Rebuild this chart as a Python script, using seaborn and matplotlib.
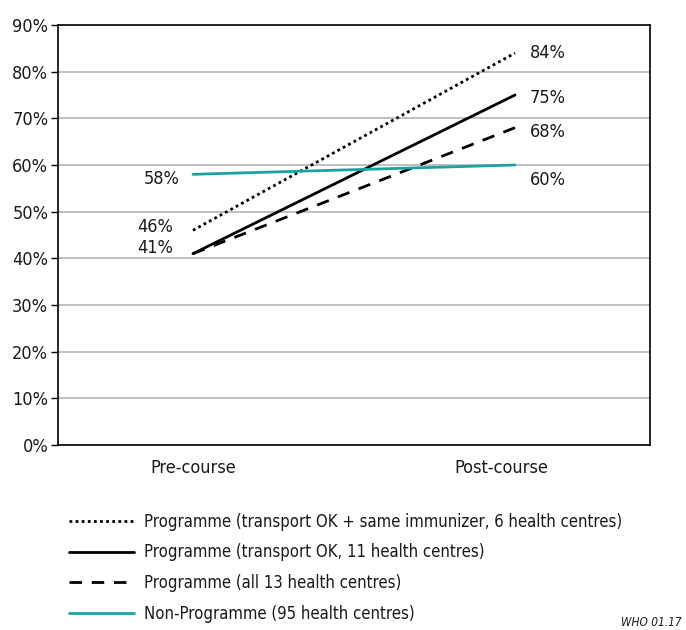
import matplotlib
matplotlib.use("Agg")
from matplotlib import pyplot as plt
import matplotlib.transforms as mtransforms
import numpy as np
import pandas as pd
import seaborn as sns

# data
periods = ["Pre-course", "Post-course"]
series_names = [
    "Programme (transport OK + same immunizer, 6 health centres)",
    "Programme (transport OK, 11 health centres)",
    "Programme (all 13 health centres)",
    "Non-Programme (95 health centres)",
]
pre_values = [46, 41, 41, 58]
post_values = [84, 75, 68, 60]
yticks = [0, 10, 20, 30, 40, 50, 60, 70, 80, 90]

sns.set_theme(style="white")
plt.rcParams["font.family"] = ["DejaVu Sans"]
plt.rcParams["font.stretch"] = "condensed"
plt.rcParams["text.color"] = "#1a1a1a"
plt.rcParams["xtick.color"] = "#1a1a1a"
plt.rcParams["ytick.color"] = "#1a1a1a"
plt.rcParams["xtick.labelcolor"] = "#1a1a1a"
plt.rcParams["ytick.labelcolor"] = "#1a1a1a"

rows = []
for name, pre, post in zip(series_names, pre_values, post_values):
    rows.append({"series": name, "pos": 0, "value": pre})
    rows.append({"series": name, "pos": 1, "value": post})
df = pd.DataFrame(rows)

palette = dict(zip(series_names, ["black", "black", "black", "#1aa3a1"]))
dashes = dict(zip(series_names, [(1, 1.2), "", (4.5, 3.5), ""]))

fig = plt.figure(figsize=(6.86, 6.30), dpi=100)
ax = fig.add_axes([58 / 686, 1 - 445 / 630, 592 / 686, 420 / 630])

sns.lineplot(
    data=df, x="pos", y="value", hue="series", style="series",
    palette=palette, dashes=dashes, linewidth=2, ax=ax,
    hue_order=series_names, style_order=series_names,
)

fs = 13
ax.set_xlim(-0.419, 1.419)
ax.set_ylim(0, 90)
ax.set_yticks(yticks)
ax.set_yticklabels([f"{t}%" for t in yticks], fontsize=fs)
ax.set_xticks([0, 1])
ax.set_xticklabels(periods, fontsize=fs)
ax.tick_params(axis="x", length=0, pad=10)
ax.set_xticks([0.5], minor=True)
ax.tick_params(axis="x", which="minor", direction="in", length=6, width=1, color="black")
ax.tick_params(axis="y", length=5, width=1, color="black", direction="out", left=True, pad=2)
ax.set_xlabel("")
ax.set_ylabel("")
ax.grid(True, axis="y", color="#b5b5b5", linewidth=1.2)
ax.set_axisbelow(True)
for sp in ax.spines.values():
    sp.set_color("black")
    sp.set_linewidth(1.2)
    sp.set_visible(True)

# the post-course label sits a little left of its data column in the original
post_lbl = ax.get_xticklabels()[1]
post_lbl.set_transform(post_lbl.get_transform() +
                       mtransforms.ScaledTranslation(-14 / 100, 0, fig.dpi_scale_trans))

# value labels
left_offsets = [(-20, 3), (-20, 6), (-20, 6), (-13, -5)]
right_offsets = [(15, 0), (15, -3), (15, -4), (15, -15)]
for i, (pre, post) in enumerate(zip(pre_values, post_values)):
    if i == 2:
        continue  # shares the 41% label with the solid line
    ax.annotate(f"{pre}%", (0, pre), xytext=left_offsets[i], textcoords="offset pixels",
                ha="right", va="center", fontsize=fs)
for i, post in enumerate(post_values):
    ax.annotate(f"{post}%", (1, post), xytext=right_offsets[i], textcoords="offset pixels",
                ha="left", va="center", fontsize=fs)

handles, labels = ax.get_legend_handles_labels()
ax.get_legend().remove()
fig.legend(handles, labels, loc="upper left", bbox_to_anchor=(62 / 686, 1 - 506 / 630),
           frameon=False, fontsize=12, handlelength=3.9, handletextpad=0.65,
           labelspacing=0.76, borderaxespad=0)

fig.text(682 / 686, 1 - 622 / 630, "WHO 01.17", ha="right", va="center",
         fontsize=8.5, style="italic")

fig.savefig("out.png", dpi=100)
